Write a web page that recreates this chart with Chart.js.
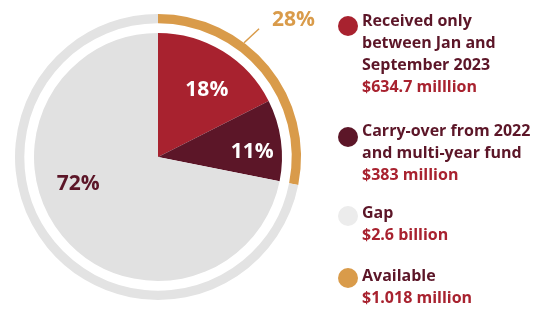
<!DOCTYPE html>
<html>
<head>
<meta charset="utf-8">
<script src="https://cdn.jsdelivr.net/npm/chart.js@4.4.0/dist/chart.umd.min.js"></script>
<style>
  html, body { margin: 0; padding: 0; background: #fff; }
  #wrap { position: relative; width: 543px; height: 309px; }
  #wrap canvas { position: absolute; left: 0; top: 0; }
</style>
</head>
<body>
<div id="wrap">
  <canvas id="pieChart" width="543" height="309"></canvas>
  <canvas id="ringChart" width="543" height="309"></canvas>
</div>
<script>
// --- datos ---
const pieLabels = ['Received only between Jan and September 2023', 'Carry-over from 2022 and multi-year fund', 'Gap'];
const pieValues = [634.7, 383, 2600];          // millones USD
const piePct = ['18%', '11%', '72%'];
const ringLabels = ['Available', 'Gap'];
const ringValues = [1018, 2600];
const ringPct = ['28%', ''];

const legendTitles = [
    ['Received only', 'between Jan and', 'September 2023'],
    ['Carry-over from 2022', 'and multi-year fund'],
    ['Gap'],
    ['Available']
];
const legendAmounts = ['$634.7 milllion', '$383 million', '$2.6 billion', '$1.018 million'];

const RED = '#a8222f', MAROON = '#5c1628', GRAY = '#e1e1e1', GOLD = '#d99b4a';
const FONT = '"Open Sans", Lato, sans-serif';

// posición de cada etiqueta: ángulo desde arriba (grados) y fracción del radio
const pieLabelPos = [[36, 0.67], [87, 0.76], [251, 0.68]];

const pieLabelPlugin = {
    id: 'pieLabels',
    afterDatasetsDraw(chart) {
        const ctx = chart.ctx;
        const arc = chart.getDatasetMeta(0).data[0];
        ctx.save();
        ctx.font = 'bold 21px ' + FONT;
        ctx.textAlign = 'center';
        ctx.textBaseline = 'middle';
        piePct.forEach((txt, i) => {
            const a = pieLabelPos[i][0] * Math.PI / 180;
            const r = arc.outerRadius * pieLabelPos[i][1];
            ctx.fillStyle = i === 2 ? MAROON : '#ffffff';
            ctx.fillText(txt, arc.x + Math.sin(a) * r, arc.y - Math.cos(a) * r);
        });
        ctx.restore();
    }
};

const ringExtras = {
    id: 'ringExtras',
    afterDatasetsDraw(chart) {
        const ctx = chart.ctx;
        const arc = chart.getDatasetMeta(0).data[0];
        ctx.save();
        // línea guía de 28%
        const a = 37 * Math.PI / 180;
        const sx = arc.x + Math.sin(a) * arc.outerRadius;
        const sy = arc.y - Math.cos(a) * arc.outerRadius;
        ctx.strokeStyle = GOLD;
        ctx.lineWidth = 1.5;
        ctx.beginPath();
        ctx.moveTo(sx, sy);
        ctx.lineTo(sx + 15, sy - 14);
        ctx.stroke();
        ctx.font = 'bold 21px ' + FONT;
        ctx.fillStyle = GOLD;
        ctx.textBaseline = 'middle';
        ctx.fillText(ringPct[0], 272, 20);

        // leyenda
        const colors = [RED, MAROON, '#ececec', GOLD];
        const starts = [21, 131, 213, 276];
        const dotY = [26, 137, 216, 278];
        legendTitles.forEach((lines, i) => {
            ctx.fillStyle = colors[i];
            ctx.beginPath();
            ctx.arc(348, dotY[i], 10, 0, Math.PI * 2);
            ctx.fill();
            ctx.font = 'bold 16px ' + FONT;
            let y = starts[i];
            lines.forEach(line => {
                ctx.fillStyle = MAROON;
                ctx.fillText(line, 362, y);
                y += 22;
            });
            ctx.fillStyle = RED;
            ctx.fillText(legendAmounts[i], 362, y);
        });
        ctx.restore();
    }
};

new Chart(document.getElementById('pieChart'), {
    type: 'pie',
    data: {
        labels: pieLabels,
        datasets: [{
            data: pieValues,
            backgroundColor: [RED, MAROON, GRAY],
            borderWidth: 0
        }]
    },
    options: {
        responsive: false,
        animation: false,
        events: [],
        layout: { padding: { left: 34, top: 33, right: 261, bottom: 28 } },
        plugins: { legend: { display: false }, tooltip: { enabled: false } }
    },
    plugins: [pieLabelPlugin]
});

new Chart(document.getElementById('ringChart'), {
    type: 'doughnut',
    data: {
        labels: ringLabels,
        datasets: [{
            data: ringValues,
            backgroundColor: [GOLD, '#e3e3e3'],
            borderWidth: 0
        }]
    },
    options: {
        responsive: false,
        animation: false,
        events: [],
        cutout: '93.5%',
        layout: { padding: { left: 15, top: 14, right: 242, bottom: 9 } },
        plugins: { legend: { display: false }, tooltip: { enabled: false } }
    },
    plugins: [ringExtras]
});
</script>
</body>
</html>
